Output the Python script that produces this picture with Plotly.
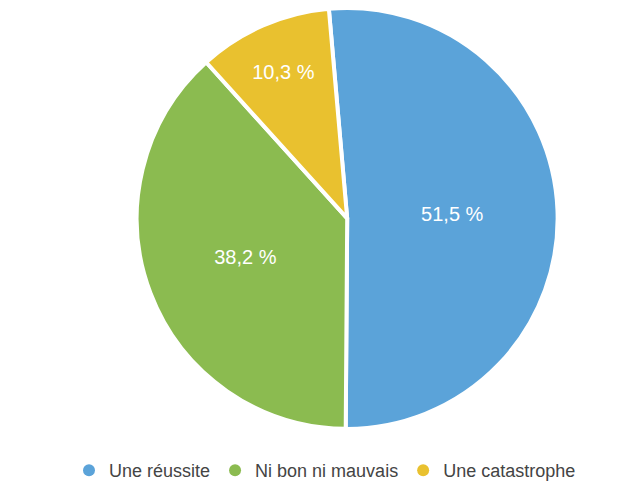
import plotly.graph_objects as go

labels = ["Une réussite", "Ni bon ni mauvais", "Une catastrophe"]
values = [51.5, 38.2, 10.3]
colors = ["#5ba3d9", "#8bbb50", "#e9c12f"]

fig = go.Figure()
fig.add_trace(go.Pie(
    labels=labels, values=values, sort=False, direction="clockwise", rotation=-5,
    marker=dict(colors=colors, line=dict(color="white", width=4)),
    texttemplate="%{value:.1f} %", textposition="inside", insidetextorientation="horizontal",
    textfont=dict(color="white", size=20),
    showlegend=False, hoverinfo="skip",
    domain=dict(x=[0.2, 0.87], y=[0.125, 1.0]),
))
# légende à marqueurs ronds
for lab, col in zip(labels, colors):
    fig.add_trace(go.Scatter(x=[None], y=[None], mode="markers", name=lab,
                             marker=dict(color=col, size=17, symbol="circle")))

fig.update_layout(
    width=634, height=481, margin=dict(l=0, r=0, t=0, b=0),
    paper_bgcolor="white", plot_bgcolor="white", separators=", ",
    font=dict(family="Liberation Sans, Arial, sans-serif", size=17, color="#444"),
    xaxis=dict(visible=False), yaxis=dict(visible=False),
    legend=dict(orientation="h", x=0.5, xanchor="center", y=0.0, yanchor="bottom",
                itemsizing="constant", font=dict(size=18)),
)
fig.write_html("out.html")
